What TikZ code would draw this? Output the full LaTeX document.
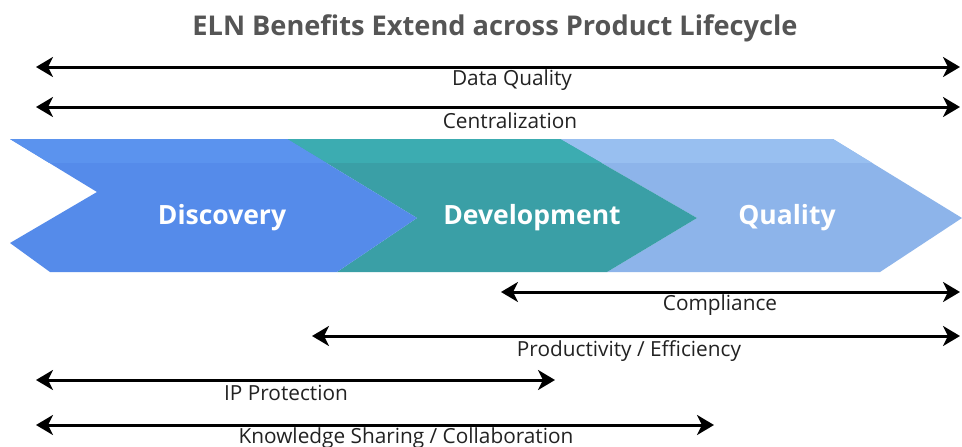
\documentclass[tikz,border=0pt]{standalone}
\usepackage{fontspec}
\setmainfont{Open Sans}
\usetikzlibrary{arrows.meta}
\definecolor{discA}{HTML}{558BEA}
\definecolor{discB}{HTML}{5B93EE}
\definecolor{devA}{HTML}{3A9FA6}
\definecolor{devB}{HTML}{3CACB1}
\definecolor{qualA}{HTML}{8DB4EA}
\definecolor{qualB}{HTML}{98BFF0}
\definecolor{titlegray}{HTML}{555555}
\definecolor{labelgray}{HTML}{222222}
\tikzset{
  span/.style={line width=3pt, {Stealth[length=17pt,width=20pt,inset=5pt]}-{Stealth[length=17pt,width=20pt,inset=5pt]}},
  spanlabel/.style={font=\fontsize{20.8}{23}\selectfont, text=labelgray, inner sep=0pt},
  phase/.style={font=\fontsize{26.5}{28}\selectfont\bfseries, text=white, inner sep=0pt},
}
\begin{document}
\begin{tikzpicture}[x=1pt,y=-1pt]
\useasboundingbox (0,0) rectangle (962,447);
\fill[white] (0,0) rectangle (962,447);
\node[font=\fontsize{27.2}{30}\selectfont\bfseries, text=titlegray, inner sep=0pt] (title) at (495,28) {ELN Benefits Extend across Product Lifecycle};
% arrows top
\coordinate (dqL) at (36,67); \coordinate (dqR) at (960,67);
\draw[span] (dqL) -- (dqR);
\node[spanlabel] (dq) at (512,80) {Data Quality};
\coordinate (ceL) at (36,107); \coordinate (ceR) at (960,107);
\draw[span] (ceL) -- (ceR);
\node[spanlabel] (ce) at (510,121) {Centralization};
% chevrons
\fill[qualA] (560,139) -- (833,139) -- (962,218) -- (880,272) -- (607,272) -- (697,218) -- cycle;
\begin{scope}
\clip (560,139) -- (833,139) -- (962,218) -- (880,272) -- (607,272) -- (697,218) -- cycle;
\fill[qualB] (500,139) rectangle (962,163);
\end{scope}
\fill[devA] (287,139) -- (560,139) -- (697,218) -- (607,272) -- (337,272) -- (417,218) -- cycle;
\begin{scope}
\clip (287,139) -- (560,139) -- (697,218) -- (607,272) -- (337,272) -- (417,218) -- cycle;
\fill[devB] (280,139) rectangle (700,163);
\end{scope}
\fill[discA] (10,139) -- (287,139) -- (417,218) -- (337,272) -- (50,272) -- (10,243) -- (97,192) -- cycle;
\begin{scope}
\clip (10,139) -- (287,139) -- (417,218) -- (337,272) -- (50,272) -- (10,243) -- (97,192) -- cycle;
\fill[discB] (0,139) rectangle (420,163);
\end{scope}
\node[phase] (disc) at (222,218) {Discovery};
\node[phase] (dev) at (532,218) {Development};
\node[phase] (qual) at (787,218) {Quality};
% arrows bottom
\coordinate (coL) at (501,292); \coordinate (coR) at (960,292);
\draw[span] (coL) -- (coR);
\node[spanlabel] (co) at (720,305) {Compliance};
\coordinate (prL) at (312,336); \coordinate (prR) at (960,336);
\draw[span] (prL) -- (prR);
\node[spanlabel] (pr) at (629,351) {Productivity / Efficiency};
\coordinate (ipL) at (36,380); \coordinate (ipR) at (555,380);
\draw[span] (ipL) -- (ipR);
\node[spanlabel] (ip) at (286,393) {IP Protection};
\coordinate (ksL) at (36,425); \coordinate (ksR) at (714,425);
\draw[span] (ksL) -- (ksR);
\node[spanlabel] (ks) at (406,438) {Knowledge Sharing / Collaboration};
\end{tikzpicture}
\end{document}
